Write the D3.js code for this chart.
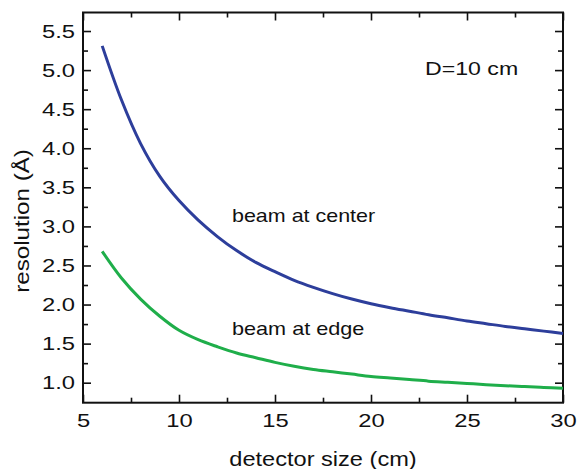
<!DOCTYPE html>
<html>
<head>
<meta charset="utf-8">
<script src="https://cdn.jsdelivr.net/npm/d3@7"></script>
<style>
  html, body { margin: 0; padding: 0; background: #fff; }
  svg text { font-family: "Liberation Sans", Arial, sans-serif; fill: #111; }
</style>
</head>
<body>
<div class="js-chart"></div>
<script>
// Detector size (cm) against resolution (Å), two beam positions.
var sizes = [6, 7, 8, 9, 10, 11, 12, 13, 14, 15, 16, 17, 18, 19, 20,
             21, 22, 23, 24, 25, 26, 27, 28, 29, 30];
var beamCenter = [5.31, 4.62, 4.06, 3.64, 3.33, 3.08, 2.87, 2.69, 2.54, 2.42,
                  2.31, 2.22, 2.14, 2.07, 2.01, 1.96, 1.915, 1.87, 1.83, 1.79,
                  1.755, 1.72, 1.69, 1.66, 1.63];
var beamEdge = [2.68, 2.34, 2.07, 1.85, 1.67, 1.55, 1.46, 1.38, 1.32, 1.26,
                1.21, 1.17, 1.14, 1.11, 1.08, 1.06, 1.04, 1.02, 1.005, 0.99,
                0.975, 0.962, 0.95, 0.94, 0.93];
var xTicks = [5, 10, 15, 20, 25, 30];
var xMinor = [7.5, 12.5, 17.5, 22.5, 27.5];
var yTicks = [1.0, 1.5, 2.0, 2.5, 3.0, 3.5, 4.0, 4.5, 5.0, 5.5];
var yMinor = [1.25, 1.75, 2.25, 2.75, 3.25, 3.75, 4.25, 4.75, 5.25];

;(function() {
  'use strict';

  var totalW = 579,
      totalH = 469;

  var margin = {top: 12.5, right: 16, bottom: 66.3, left: 83};

  var svg = d3.select('.js-chart')
              .append('svg')
              .attr('width', totalW)
              .attr('height', totalH);

  var x = d3.scaleLinear()
            .domain([5, 30])
            .range([margin.left, totalW - margin.right]);

  var y = d3.scaleLinear()
            .domain([0.744, 5.737])
            .range([totalH - margin.bottom, margin.top]);

  /**
   * The original's lettering is a bit wider than Arial, so stretch it.
   */
  function stretch(sel, k) {
    sel.each(function() {
      var w = this.getComputedTextLength();
      d3.select(this)
        .attr('textLength', w * k)
        .attr('lengthAdjust', 'spacingAndGlyphs');
    });
  }

  // Minor ticks first, all four sides, pointing inwards.
  function minorAxis(axis, pos, values) {
    svg.append('g')
        .attr('transform', pos)
        .call(axis.tickValues(values).tickSize(-5).tickFormat(''))
        .call(function(g) { g.select('.domain').remove(); })
        .selectAll('line').attr('stroke-width', 1.6).attr('stroke', '#111');
  }

  var bottomPos = 'translate(0,' + y.range()[0] + ')',
      topPos = 'translate(0,' + y.range()[1] + ')',
      leftPos = 'translate(' + x.range()[0] + ',0)',
      rightPos = 'translate(' + x.range()[1] + ',0)';

  minorAxis(d3.axisBottom(x), bottomPos, xMinor);
  minorAxis(d3.axisTop(x), topPos, xMinor);
  minorAxis(d3.axisLeft(y), leftPos, yMinor);
  minorAxis(d3.axisRight(y), rightPos, yMinor);

  // Major ticks, labels only on bottom and left.
  var xAxis = svg.append('g')
      .attr('transform', bottomPos)
      .call(d3.axisBottom(x).tickValues(xTicks).tickSize(-8).tickPadding(11)
              .tickFormat(d3.format('d')));

  var yAxis = svg.append('g')
      .attr('transform', leftPos)
      .call(d3.axisLeft(y).tickValues(yTicks).tickSize(-8).tickPadding(8)
              .tickFormat(d3.format('.1f')));

  svg.append('g')
      .attr('transform', topPos)
      .call(d3.axisTop(x).tickValues(xTicks).tickSize(-8).tickFormat(''));

  svg.append('g')
      .attr('transform', rightPos)
      .call(d3.axisRight(y).tickValues(yTicks).tickSize(-8).tickFormat(''));

  svg.selectAll('.domain').remove();
  svg.selectAll('.tick line').attr('stroke', '#111').attr('stroke-width', 1.6);

  [xAxis, yAxis].forEach(function(a) {
    a.selectAll('text')
        .style('font-size', '19px')
        .attr('fill', '#111');
    stretch(a.selectAll('text'), 1.25);
  });

  // Frame.
  svg.append('rect')
      .attr('x', x.range()[0])
      .attr('y', y.range()[1])
      .attr('width', x.range()[1] - x.range()[0])
      .attr('height', y.range()[0] - y.range()[1])
      .attr('fill', 'none')
      .attr('stroke', '#111')
      .attr('stroke-width', 2);

  // Curves.
  var line = d3.line()
      .x(function(d, i) { return x(sizes[i]); })
      .y(function(d) { return y(d); })
      .curve(d3.curveCatmullRom.alpha(0.5));

  svg.append('path')
      .datum(beamCenter)
      .attr('d', line)
      .attr('fill', 'none')
      .attr('stroke', '#2d3e9b')
      .attr('stroke-width', 3);

  svg.append('path')
      .datum(beamEdge)
      .attr('d', line)
      .attr('fill', 'none')
      .attr('stroke', '#1fae4a')
      .attr('stroke-width', 3);

  // Labels inside the plot.
  function note(txt, px, py, size, k) {
    var t = svg.append('text')
        .attr('x', px)
        .attr('y', py)
        .style('font-size', size + 'px')
        .text(txt);
    stretch(t, k);
  }

  note('D=10 cm', 425, 75, 18.5, 1.25);
  note('beam at center', 232, 222, 18.5, 1.16);
  note('beam at edge', 232, 335, 18.5, 1.17);

  // Axis titles.
  var xTitle = svg.append('text')
      .attr('x', (x.range()[0] + x.range()[1]) / 2)
      .attr('y', 466)
      .attr('text-anchor', 'middle')
      .style('font-size', '20.5px')
      .text('detector size (cm)');
  stretch(xTitle, 1.15);

  var yTitle = svg.append('text')
      .attr('transform', 'translate(29,221) rotate(-90)')
      .attr('text-anchor', 'middle')
      .style('font-size', '21px')
      .text('resolution (Å)');
  stretch(yTitle, 1.15);

}());
</script>
</body>
</html>
